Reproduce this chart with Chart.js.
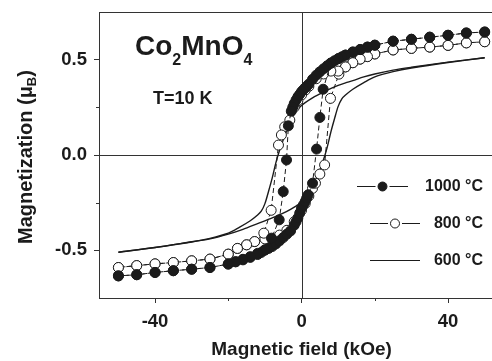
<!DOCTYPE html>
<html><head><meta charset="utf-8">
<script src="https://cdn.jsdelivr.net/npm/chart.js@4"></script>
<style>html,body{margin:0;padding:0;background:#fff;overflow:hidden}canvas{display:block}</style>
</head><body>
<canvas id="c" width="492" height="361"></canvas>
<script>
// ---------------- data ----------------
const seriesNames = ['1000 °C', '800 °C', '600 °C'];
const xTitle = 'Magnetic field (kOe)';
const fieldTicks = [-40, 0, 40];
const fieldMinorTicks = [-20, 20];
const magTicks = [-0.5, 0.0, 0.5];
const magMinorTicks = [-0.25, 0.25];

// 1000 °C, field sweep +50 -> -50
const h1000Down = [50, 45, 40, 35, 30, 25, 20, 18, 16, 14, 12, 11, 10, 9, 8, 7, 6, 5, 4, 3, 2, 1.5, 1, 0.5, 0, -0.5, -1, -1.5, -2, -2.4, -2.8, -3.6, -4.1, -5.0, -6.1, -8.2, -10, -12, -14, -16, -18, -20, -25, -30, -35, -40, -45, -50];
const m1000Down = [0.645, 0.640, 0.628, 0.618, 0.607, 0.597, 0.576, 0.566, 0.553, 0.540, 0.524, 0.515, 0.505, 0.494, 0.482, 0.468, 0.452, 0.436, 0.418, 0.397, 0.372, 0.362, 0.352, 0.342, 0.332, 0.318, 0.305, 0.288, 0.270, 0.250, 0.230, 0.153, -0.026, -0.192, -0.340, -0.436, -0.497, -0.516, -0.533, -0.547, -0.560, -0.572, -0.590, -0.599, -0.607, -0.616, -0.628, -0.634];
// 1000 °C, field sweep -50 -> +50
const h1000Up = [-50, -45, -40, -35, -30, -25, -20, -18, -16, -14, -12, -11, -10, -9, -8, -7, -6, -5, -4, -3, -2, -1.5, -1, -0.5, 0, 0.5, 1, 1.4, 1.8, 3, 4.1, 5, 5.9, 8, 10, 12, 14, 16, 18, 20, 25, 30, 35, 40, 45, 50];
const m1000Up = [-0.634, -0.628, -0.616, -0.607, -0.599, -0.590, -0.572, -0.560, -0.550, -0.537, -0.522, -0.511, -0.499, -0.490, -0.480, -0.466, -0.450, -0.433, -0.415, -0.398, -0.368, -0.350, -0.330, -0.305, -0.279, -0.262, -0.244, -0.226, -0.209, -0.148, 0.031, 0.197, 0.345, 0.482, 0.505, 0.524, 0.540, 0.553, 0.566, 0.576, 0.597, 0.607, 0.618, 0.628, 0.640, 0.645];

// 800 °C
const h800Down = [50, 45, 40, 35, 30, 25, 20, 18, 16, 14, 12, 10, 8, 6, 4, 2, 1, 0, -1, -2, -3.2, -4.6, -5.5, -6.3, -8.3, -10.3, -12.8, -15, -17.5, -20, -25, -30, -35, -40, -45, -50];
const m800Down = [0.594, 0.588, 0.575, 0.566, 0.559, 0.551, 0.530, 0.516, 0.503, 0.484, 0.462, 0.44, 0.44, 0.425, 0.40, 0.36, 0.34, 0.315, 0.285, 0.25, 0.183, 0.148, 0.105, 0.052, -0.29, -0.41, -0.454, -0.471, -0.49, -0.52, -0.546, -0.555, -0.564, -0.571, -0.58, -0.59];
const h800Up = [-50, -45, -40, -35, -30, -25, -20, -17.5, -15, -12.8, -10, -8, -6, -4, -2, 0, 1, 2, 3, 3.8, 5.0, 6.3, 7.9, 10.2, 12, 14, 16, 18, 20, 25, 30, 35, 40, 45, 50];
const m800Up = [-0.59, -0.58, -0.571, -0.564, -0.555, -0.546, -0.52, -0.49, -0.471, -0.454, -0.44, -0.44, -0.42, -0.395, -0.35, -0.29, -0.255, -0.215, -0.175, -0.148, -0.1, -0.052, 0.297, 0.424, 0.462, 0.484, 0.503, 0.516, 0.530, 0.551, 0.559, 0.566, 0.575, 0.588, 0.594];

// 600 °C (line only)
const h600Down = [50, 40, 30, 25, 20, 17, 14, 12, 10, 7, 5, 3, 1, 0, -1, -2, -3, -4, -5, -6, -7, -8, -9, -10, -11, -12, -14, -17, -20, -25, -30, -40, -50];
const m600Down = [0.51, 0.487, 0.46, 0.445, 0.425, 0.41, 0.39, 0.378, 0.365, 0.34, 0.32, 0.30, 0.275, 0.26, 0.24, 0.215, 0.18, 0.13, 0.08, 0.025, -0.04, -0.12, -0.19, -0.255, -0.295, -0.315, -0.345, -0.38, -0.41, -0.437, -0.456, -0.485, -0.51];
const h600Up = [-50, -40, -30, -25, -20, -16, -12, -8, -5, -3, -1, 0, 1, 2, 3, 4, 5, 6, 7, 8, 9, 10, 11, 12, 14, 17, 20, 25, 30, 40, 50];
const m600Up = [-0.51, -0.485, -0.455, -0.44, -0.415, -0.39, -0.36, -0.33, -0.305, -0.285, -0.262, -0.25, -0.23, -0.2, -0.165, -0.13, -0.08, -0.025, 0.04, 0.12, 0.19, 0.255, 0.295, 0.315, 0.345, 0.38, 0.41, 0.437, 0.456, 0.485, 0.51];

// ---------------- styling / build ----------------
const INK = '#1b1b1b';
const AXIS = '#333333';
const FONT = '"Liberation Sans", Arial, Helvetica, sans-serif';

const pts = (hs, ms) => hs.map((h, i) => ({x: h, y: ms[i]}));
const markerSet = (label, data, filled) => ({
  label, data, showLine: true, borderColor: INK, borderWidth: 1, borderDash: [5, 3],
  pointRadius: 5, pointHoverRadius: 5, pointStyle: 'circle',
  pointBackgroundColor: filled ? INK : '#ffffff', pointBorderColor: INK, pointBorderWidth: 1,
  tension: 0, fill: false
});
const lineSet = (label, data) => ({
  label, data, showLine: true, borderColor: INK, borderWidth: 1.4, pointRadius: 0,
  tension: 0.3, fill: false
});

const datasets = [
  markerSet(seriesNames[0], pts(h1000Down, m1000Down), true),
  markerSet(seriesNames[0], pts(h1000Up, m1000Up), true),
  markerSet(seriesNames[1], pts(h800Down, m800Down), false),
  markerSet(seriesNames[1], pts(h800Up, m800Up), false),
  lineSet(seriesNames[2], pts(h600Down, m600Down)),
  lineSet(seriesNames[2], pts(h600Up, m600Up))
];

const decor = {
  id: 'decor',
  beforeDatasetsDraw(chart) {
    const {ctx, chartArea: a, scales: {x, y}} = chart;
    ctx.save();
    ctx.strokeStyle = AXIS; ctx.lineWidth = 1;
    const x0 = Math.round(x.getPixelForValue(0)) + 0.5;
    const y0 = Math.round(y.getPixelForValue(0)) + 0.5;
    ctx.beginPath();
    ctx.moveTo(x0, a.top); ctx.lineTo(x0, a.bottom);
    ctx.moveTo(a.left, y0); ctx.lineTo(a.right, y0);
    ctx.moveTo(a.left, a.top + 0.5); ctx.lineTo(a.right, a.top + 0.5);
    magMinorTicks.forEach(v => { const p = Math.round(y.getPixelForValue(v)) + 0.5; ctx.moveTo(a.left - 3, p); ctx.lineTo(a.left, p); });
    fieldMinorTicks.forEach(v => { const p = Math.round(x.getPixelForValue(v)) + 0.5; ctx.moveTo(p, a.bottom); ctx.lineTo(p, a.bottom + 3); });
    ctx.stroke();
    ctx.restore();
  },
  afterDraw(chart) {
    const {ctx, scales: {x}} = chart;
    ctx.save();
    ctx.fillStyle = INK;
    ctx.textBaseline = 'alphabetic';
    ctx.textAlign = 'left';
    // compound label
    let cx = 135;
    [['Co', 28, 0], ['2', 16, 10], ['MnO', 28, 0], ['4', 16, 10]].forEach(([t, s, dy]) => {
      ctx.font = `bold ${s}px ${FONT}`;
      ctx.fillText(t, cx, 55 + dy);
      cx += ctx.measureText(t).width;
    });
    ctx.font = `bold 18px ${FONT}`;
    ctx.fillText('T=10 K', 153, 104);

    // x axis title, centred under the zero-field tick
    ctx.font = `bold 19px ${FONT}`;
    ctx.textAlign = 'center'; ctx.textBaseline = 'middle';
    ctx.fillText(xTitle, x.getPixelForValue(0), 350);
    ctx.textAlign = 'left'; ctx.textBaseline = 'alphabetic';

    // y axis title with subscript
    ctx.save();
    ctx.translate(32, 157);
    ctx.rotate(-Math.PI / 2);
    const parts = [['Magnetization (\u03bc', 20, 0], ['B', 13, 4], [')', 20, 0]];
    let w = 0;
    parts.forEach(([t, s]) => { ctx.font = `bold ${s}px ${FONT}`; w += ctx.measureText(t).width; });
    let tx = -w / 2;
    parts.forEach(([t, s, dy]) => { ctx.font = `bold ${s}px ${FONT}`; ctx.fillText(t, tx, dy); tx += ctx.measureText(t).width; });
    ctx.restore();

    // legend
    const rows = [
      {y: 186, x1: 357, x2: 408, marker: 'filled'},
      {y: 223, x1: 370, x2: 420, marker: 'open'},
      {y: 260, x1: 370, x2: 420, marker: null}
    ];
    rows.forEach((r, i) => {
      ctx.strokeStyle = INK; ctx.lineWidth = 1;
      const mx = (r.x1 + r.x2) / 2;
      ctx.beginPath();
      if (r.marker) {
        ctx.moveTo(r.x1, r.y + 0.5); ctx.lineTo(mx - 7, r.y + 0.5);
        ctx.moveTo(mx + 7, r.y + 0.5); ctx.lineTo(r.x2, r.y + 0.5);
      } else {
        ctx.moveTo(r.x1, r.y + 0.5); ctx.lineTo(r.x2, r.y + 0.5);
      }
      ctx.stroke();
      if (r.marker) {
        ctx.beginPath();
        ctx.arc(mx, r.y + 0.5, 4.5, 0, Math.PI * 2);
        ctx.fillStyle = r.marker === 'filled' ? INK : '#fff';
        ctx.fill(); ctx.stroke();
      }
      ctx.fillStyle = INK;
      ctx.font = `bold 16px ${FONT}`;
      ctx.textAlign = 'right'; ctx.textBaseline = 'middle';
      ctx.fillText(seriesNames[i], 483, r.y + 1);
    });
    ctx.restore();
  }
};

new Chart(document.getElementById('c'), {
  type: 'scatter',
  data: {datasets},
  options: {
    responsive: false, animation: false, devicePixelRatio: 1,
    layout: {autoPadding: false, padding: {top: 12, right: 0, left: 0, bottom: 0}},
    plugins: {legend: {display: false}, tooltip: {enabled: false}},
    scales: {
      x: {
        type: 'linear', min: -55.3, max: 52,
        afterBuildTicks: s => { s.ticks = fieldTicks.map(v => ({value: v})); },
        afterFit: s => { s.height = 63; s.paddingLeft = 0; s.paddingRight = 0; },
        ticks: {font: {family: FONT, size: 18.5, weight: 'bold'}, color: INK, padding: 8, maxRotation: 0, autoSkip: false, callback: v => String(v)},
        grid: {drawOnChartArea: false, tickLength: 5, tickColor: AXIS, tickWidth: 1},
        border: {color: AXIS, width: 1},
        title: {display: false}
      },
      y: {
        type: 'linear', min: -0.75, max: 0.75,
        afterBuildTicks: s => { s.ticks = magTicks.map(v => ({value: v})); },
        afterFit: s => { s.width = 99; s.paddingTop = 0; s.paddingBottom = 0; },
        ticks: {font: {family: FONT, size: 18.5, weight: 'bold'}, color: INK, padding: 7, autoSkip: false, callback: v => Number(v).toFixed(1)},
        grid: {drawOnChartArea: false, tickLength: 5, tickColor: AXIS, tickWidth: 1},
        border: {color: AXIS, width: 1}
      }
    }
  },
  plugins: [decor]
});
</script>
</body></html>
